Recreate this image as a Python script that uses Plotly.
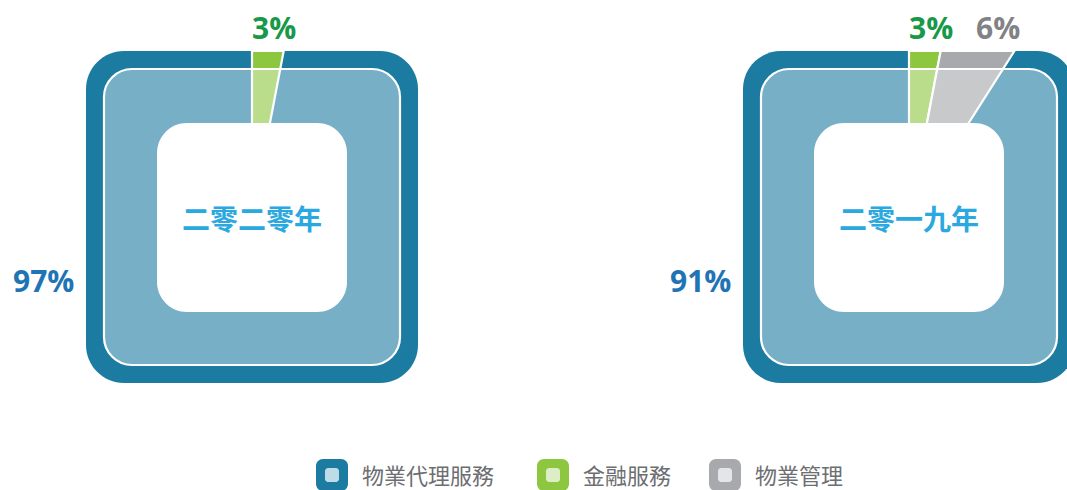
import math
import plotly.graph_objects as go

# ---- data ----
categories = ["物業代理服務", "金融服務", "物業管理"]
years = ["二零二零年", "二零一九年"]
share_2020 = [97, 3, 0]
share_2019 = [91, 3, 6]
series = [share_2020, share_2019]

# ---- styles ----
dark_cols = ["#1B7BA0", "#8DC63F", "#A7A9AC"]
light_cols = ["#76AFC6", "#BADD8C", "#C8C9CB"]
icon_inner = ["#BEDCE7", "#DDEDC5", "#E4E5E6"]
label_cols = ["#1F74B5", "#18994A", "#808285"]
center_col = "#2AA8E0"
legend_txt = "#6D6E71"

W, H = 1067, 490
centers = [(252, 217), (909, 217)]
HALF_OUT = 166   # outer half-size
INSET = 18       # inner band inset
WHITE_HALF = 95  # white center half-size


def rrect(x0, y0, x1, y1, r):
    k = 0.5523 * r
    return (f"M{x0+r},{y0} L{x1-r},{y0} C{x1-r+k},{y0} {x1},{y0+r-k} {x1},{y0+r} "
            f"L{x1},{y1-r} C{x1},{y1-r+k} {x1-r+k},{y1} {x1-r},{y1} "
            f"L{x0+r},{y1} C{x0+r-k},{y1} {x0},{y1-r+k} {x0},{y1-r} "
            f"L{x0},{y0+r} C{x0},{y0+r-k} {x0+r-k},{y0} {x0+r},{y0} Z")


shapes = []
annotations = []


def wedge(cx, cy, a0, a1, ytop, color):
    xa = cx + math.tan(math.radians(a0)) * (cy - ytop)
    xb = cx + math.tan(math.radians(a1)) * (cy - ytop)
    return dict(type="path", xref="x", yref="y",
                path=f"M{cx},{cy} L{xa},{ytop} L{xb},{ytop} Z",
                fillcolor=color, line=dict(color="white", width=2.2), layer="above")


for (cx, cy), vals, yr in zip(centers, series, years):
    x0, y0, x1, y1 = cx - HALF_OUT, cy - HALF_OUT, cx + HALF_OUT, cy + HALF_OUT
    # outer band (main category as background ring)
    shapes.append(dict(type="path", xref="x", yref="y", path=rrect(x0, y0, x1, y1, 38),
                       fillcolor=dark_cols[0], line=dict(width=0), layer="above"))
    # slices of the other categories, clockwise from 12 o'clock
    ang = 0.0
    spans = []
    for i in range(1, len(categories)):
        if vals[i] <= 0:
            continue
        a0 = ang
        a1 = ang + vals[i] / 100 * 360
        spans.append((i, a0, a1))
        ang = a1
    for i, a0, a1 in spans:
        shapes.append(wedge(cx, cy, a0, a1, y0, dark_cols[i]))
    # inner band
    ix0, iy0, ix1, iy1 = x0 + INSET, y0 + INSET, x1 - INSET, y1 - INSET
    shapes.append(dict(type="path", xref="x", yref="y", path=rrect(ix0, iy0, ix1, iy1, 28),
                       fillcolor=light_cols[0], line=dict(color="white", width=2.2), layer="above"))
    for i, a0, a1 in spans:
        shapes.append(wedge(cx, cy, a0, a1, iy0, light_cols[i]))
    # white center
    shapes.append(dict(type="path", xref="x", yref="y",
                       path=rrect(cx - WHITE_HALF, cy - WHITE_HALF + 1, cx + WHITE_HALF, cy + WHITE_HALF, 30),
                       fillcolor="white", line=dict(width=0), layer="above"))
    annotations.append(dict(x=cx, y=cy + 1, xref="x", yref="y", text=f"<b>{yr}</b>",
                            showarrow=False, xanchor="center", yanchor="middle",
                            font=dict(family="Noto Sans CJK TC", size=28, color=center_col)))
    # percentage labels
    for i, a0, a1 in spans:
        mid = (a0 + a1) / 2
        annotations.append(dict(x=cx + math.tan(math.radians(mid)) * 222 + 1, y=27, xref="x", yref="y",
                                text=f"<b>{vals[i]}%</b>", showarrow=False,
                                xanchor="center", yanchor="middle",
                                font=dict(family="Open Sans", size=30, color=label_cols[i])))
    annotations.append(dict(x=cx - 209, y=280, xref="x", yref="y", text=f"<b>{vals[0]}%</b>",
                            showarrow=False, xanchor="center", yanchor="middle",
                            font=dict(family="Open Sans", size=30, color=label_cols[0])))

# ---- legend ----
legend_x = [316, 537, 709]
for i, cat in enumerate(categories):
    lx = legend_x[i]
    shapes.append(dict(type="path", xref="x", yref="y", path=rrect(lx, 459, lx + 32, 491, 7),
                       fillcolor=dark_cols[i], line=dict(width=0), layer="above"))
    shapes.append(dict(type="path", xref="x", yref="y", path=rrect(lx + 9, 468, lx + 23, 482, 3),
                       fillcolor=icon_inner[i], line=dict(width=0), layer="above"))
    annotations.append(dict(x=lx + 44, y=474, xref="x", yref="y", text=cat, showarrow=False,
                            xanchor="left", yanchor="middle",
                            font=dict(family="Noto Sans CJK TC", size=22, color=legend_txt)))

fig = go.Figure()
fig.add_trace(go.Scatter(x=[0, W], y=[0, H], mode="markers", marker=dict(opacity=0),
                         hoverinfo="skip", showlegend=False))
fig.update_layout(
    width=W, height=H, margin=dict(l=0, r=0, t=0, b=0),
    paper_bgcolor="white", plot_bgcolor="white",
    xaxis=dict(range=[0, W], visible=False, fixedrange=True),
    yaxis=dict(range=[H, 0], visible=False, fixedrange=True),
    shapes=shapes, annotations=annotations, showlegend=False,
)
fig.write_html("out.html", config={"displayModeBar": False},
               post_script="document.body.style.margin='0';document.body.style.overflow='hidden';")
